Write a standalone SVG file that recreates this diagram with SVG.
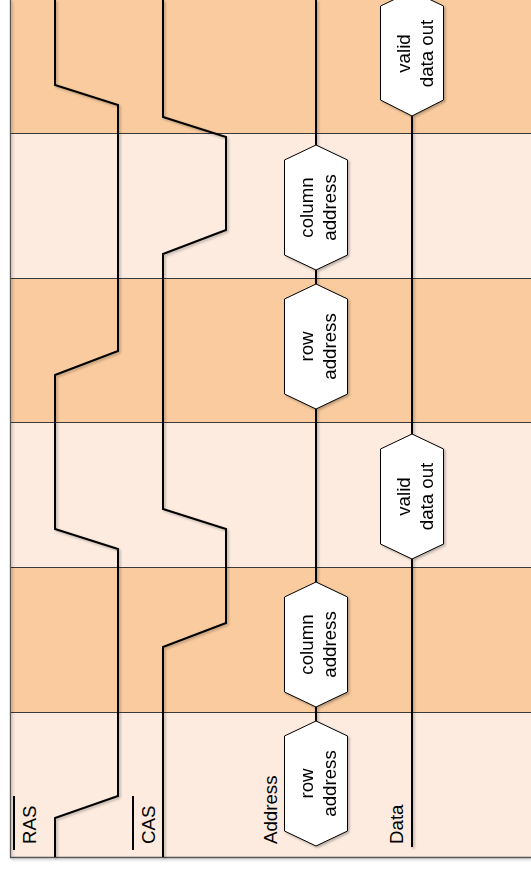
<svg xmlns="http://www.w3.org/2000/svg" width="531" height="875" viewBox="0 0 531 875">
<defs>
<filter id="sh" x="-20%" y="-20%" width="140%" height="140%">
<feDropShadow dx="1.5" dy="1.5" stdDeviation="1.2" flood-color="#000" flood-opacity="0.28"/>
</filter>
<style>
.dark{fill:#f9cb9e}
.light{fill:#fdebdf}
.sep{stroke:#3a3a3a;stroke-width:1;fill:none}
.sig{stroke:#000;stroke-width:2;fill:none;stroke-linejoin:miter}
.hex{fill:#fff;stroke:#000;stroke-width:1}
.t{font-family:"Liberation Sans",Arial,sans-serif;font-size:18.7px;fill:#000}
.bar{stroke:#000;stroke-width:2}
</style>
</defs>
<rect width="531" height="875" fill="#fff"/>
<g id="bands">
<rect class="dark" x="10" y="0" width="521" height="133"/>
<rect class="light" x="10" y="133" width="521" height="145"/>
<rect class="dark" x="10" y="278" width="521" height="144"/>
<rect class="light" x="10" y="422" width="521" height="145"/>
<rect class="dark" x="10" y="567" width="521" height="145"/>
<rect class="light" x="10" y="712" width="521" height="145"/>
<path class="sep" d="M10 133.5H531M10 278.5H531M10 422.5H531M10 567.5H531M10 712.5H531"/>
<path d="M10.5 0V857.5H531" stroke="#555" stroke-width="1.3" fill="none" filter="url(#sh)"/>
</g>
<g id="connectors" filter="url(#sh)">
<path id="ras" class="sig" d="M55 0V85L118 105V351L55 375V529L118 549V796L55 818V857"/>
<path id="cas" class="sig" d="M163 0V117L226 137V230L163 254V509L226 529V623L163 647V857"/>
<path id="addr" class="sig" d="M316 0V145M316 270V284M316 409V582M316 707V721"/>
<path id="data" class="sig" d="M412 116V434M412 559V847"/>
</g>
<g id="hex-data-out-1" filter="url(#sh)">
<polygon class="hex" points="412,-9 443.5,6 443.5,100 412,116 380.5,100 380.5,6"/>
<text class="t" transform="translate(412,53.5) rotate(-90)" text-anchor="middle"><tspan x="0" y="-2.5">valid</tspan><tspan x="0" y="20.5">data out</tspan></text>
</g>
<g id="hex-column-address-1" filter="url(#sh)">
<polygon class="hex" points="316,145 347.5,160 347.5,255 316,270 284.5,255 284.5,160"/>
<text class="t" transform="translate(316,207.5) rotate(-90)" text-anchor="middle"><tspan x="0" y="-3">column</tspan><tspan x="0" y="20">address</tspan></text>
</g>
<g id="hex-row-address-1" filter="url(#sh)">
<polygon class="hex" points="316,284 347.5,299 347.5,394 316,409 284.5,394 284.5,299"/>
<text class="t" transform="translate(316,346.5) rotate(-90)" text-anchor="middle"><tspan x="0" y="-3">row</tspan><tspan x="0" y="20">address</tspan></text>
</g>
<g id="hex-data-out-2" filter="url(#sh)">
<polygon class="hex" points="412,434 443.5,449 443.5,544 412,559 380.5,544 380.5,449"/>
<text class="t" transform="translate(412,496.5) rotate(-90)" text-anchor="middle"><tspan x="0" y="-2.5">valid</tspan><tspan x="0" y="20.5">data out</tspan></text>
</g>
<g id="hex-column-address-2" filter="url(#sh)">
<polygon class="hex" points="316,582 347.5,597 347.5,692 316,707 284.5,692 284.5,597"/>
<text class="t" transform="translate(316,644.5) rotate(-90)" text-anchor="middle"><tspan x="0" y="-3">column</tspan><tspan x="0" y="20">address</tspan></text>
</g>
<g id="hex-row-address-2" filter="url(#sh)">
<polygon class="hex" points="316,721 347.5,736 347.5,831 316,846 284.5,831 284.5,736"/>
<text class="t" transform="translate(316,783.5) rotate(-90)" text-anchor="middle"><tspan x="0" y="-3">row</tspan><tspan x="0" y="20">address</tspan></text>
</g>
<g id="label-ras">
<line class="bar" x1="14" y1="796" x2="14" y2="850"/>
<text class="t" transform="translate(36,844) rotate(-90)">RAS</text>
</g>
<g id="label-cas">
<line class="bar" x1="133" y1="796" x2="133" y2="850"/>
<text class="t" transform="translate(155,844) rotate(-90)">CAS</text>
</g>
<g id="label-address">
<text class="t" transform="translate(277,844) rotate(-90)">Address</text>
</g>
<g id="label-data">
<text class="t" transform="translate(403,844) rotate(-90)">Data</text>
</g>
</svg>
